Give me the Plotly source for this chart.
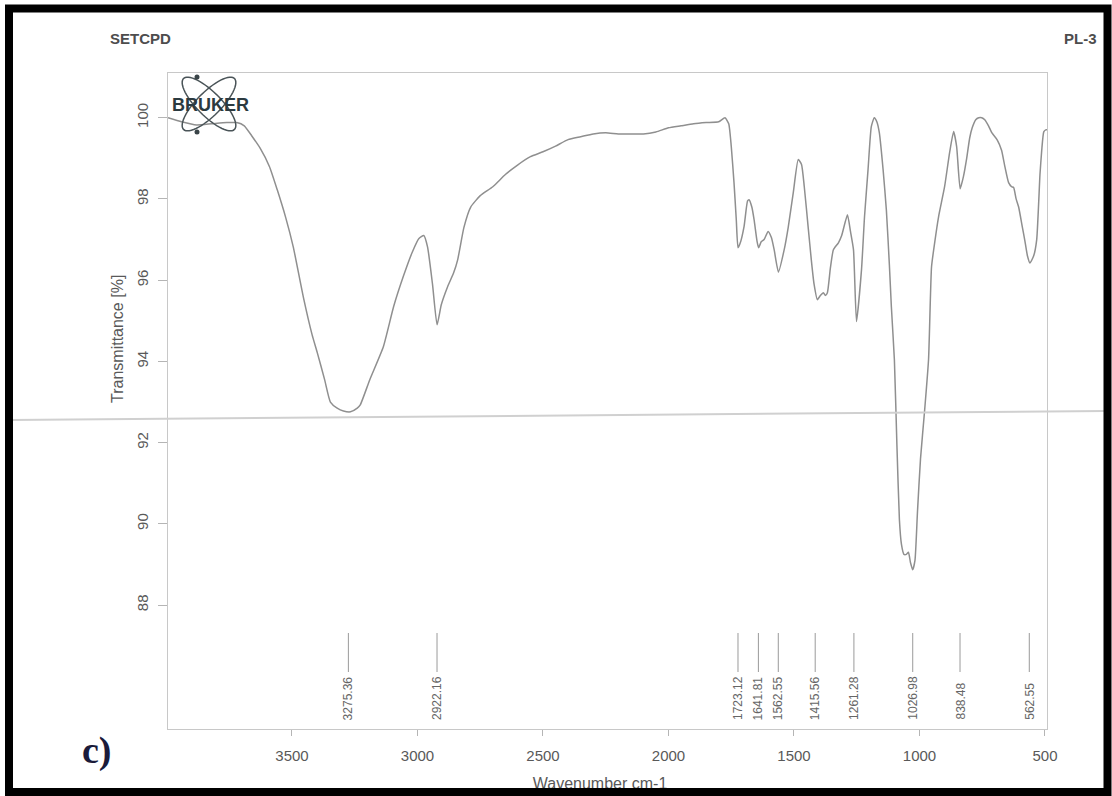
import numpy as np
import plotly.graph_objects as go

# ---------------- data ----------------
wavenumber = [
    3994, 3940, 3880, 3820, 3760, 3720, 3690, 3660, 3627, 3590,
    3559, 3525, 3495, 3455, 3420, 3399, 3370, 3347, 3320, 3295,
    3267, 3240, 3228, 3190, 3136, 3095, 3056, 3020, 2995, 2975,
    2960, 2940, 2922, 2905, 2880, 2856, 2840, 2815, 2788, 2750,
    2700, 2650, 2600, 2550, 2500, 2450, 2400, 2350, 2300, 2250,
    2200, 2150, 2100, 2050, 2000, 1950, 1900, 1850, 1800, 1775,
    1760, 1750, 1739, 1730, 1723, 1715, 1699, 1685, 1679, 1668,
    1659, 1647, 1641, 1630, 1619, 1603, 1590, 1579, 1562, 1539,
    1523, 1503, 1483, 1470, 1459, 1443, 1431, 1420, 1407, 1395,
    1383, 1375, 1367, 1355, 1343, 1323, 1310, 1287, 1275, 1263,
    1251, 1231, 1219, 1205, 1192, 1180, 1170, 1160, 1145, 1132,
    1120, 1112, 1100, 1090, 1080, 1072, 1062, 1052, 1044, 1036,
    1027, 1018, 1008, 996, 980, 964, 952, 940, 924, 900,
    880, 864, 852, 838, 825, 812, 800, 790, 776, 764,
    752, 740, 725, 712, 690, 673, 660, 645, 633, 625,
    615, 605, 590, 581, 570, 560, 545, 533, 520, 513,
    505, 497, 492,
]
transmittance = [
    100.0, 99.9, 99.82, 99.85, 99.88, 99.88, 99.8, 99.55, 99.25, 98.8,
    98.23, 97.54, 96.82, 95.59, 94.66, 94.21, 93.55, 93.0, 92.85, 92.78,
    92.76, 92.85, 92.93, 93.55, 94.36, 95.35, 96.1, 96.7, 97.02, 97.1,
    96.82, 95.89, 94.9, 95.4, 95.84, 96.18, 96.5, 97.3, 97.8, 98.08,
    98.3, 98.6, 98.84, 99.04, 99.16, 99.3, 99.46, 99.53, 99.6, 99.63,
    99.6, 99.6, 99.6, 99.65, 99.75, 99.8, 99.85, 99.88, 99.9, 100.0,
    99.85, 99.3, 98.4, 97.5, 96.8, 96.9, 97.32, 97.95, 97.98, 97.8,
    97.49, 96.95, 96.8, 96.95, 97.0, 97.2, 97.05, 96.75, 96.2, 96.75,
    97.3, 98.15, 98.97, 98.85, 98.3, 97.27, 96.5, 95.9, 95.52, 95.62,
    95.69, 95.62, 95.69, 96.3, 96.75, 96.92, 97.1, 97.61, 97.2, 96.75,
    94.98, 96.26, 97.56, 98.72, 99.78, 100.0, 99.9, 99.63, 98.72, 97.73,
    96.38, 95.34, 94.04, 91.95, 90.1, 89.5, 89.25, 89.25, 89.3, 89.05,
    88.87, 89.1, 90.3, 91.6, 92.76, 94.04, 96.33, 96.9, 97.56, 98.3,
    99.14, 99.66, 99.29, 98.25, 98.55, 99.0, 99.5, 99.75, 99.95, 100.0,
    100.0, 99.95, 99.8, 99.63, 99.45, 99.2, 98.8, 98.4, 98.3, 98.28,
    98.0, 97.8, 97.3, 97.0, 96.6, 96.42, 96.6, 97.0, 98.6, 99.2,
    99.65, 99.7, 99.7,
]
peak_positions = [3275.36, 2922.16, 1723.12, 1641.81, 1562.55,
                  1415.56, 1261.28, 1026.98, 838.48, 562.55]
peak_labels = ["3275.36", "2922.16", "1723.12", "1641.81", "1562.55",
               "1415.56", "1261.28", "1026.98", "838.48", "562.55"]
x_ticks = [3500, 3000, 2500, 2000, 1500, 1000, 500]
y_ticks = [88, 90, 92, 94, 96, 98, 100]

# ---------------- geometry helpers (pixels -> paper) ----------------
W, H = 1112, 796


def px(x):
    return x / W


def py(y):
    return 1 - y / H


FONT = "Liberation Sans, Arial, sans-serif"
GREY_TXT = "#595959"

fig = go.Figure()

fig.add_trace(go.Scatter(
    x=wavenumber, y=transmittance, mode="lines",
    line=dict(color="#8f8f8f", width=1.5, shape="spline", smoothing=0.5),
    hoverinfo="skip", showlegend=False,
))

# x-axis title (partly hidden by the frame), drawn as a text trace on a pixel overlay
fig.add_trace(go.Scatter(
    x=[600], y=[785], mode="text", text=["Wavenumber cm-1"],
    textfont=dict(family=FONT, size=16, color=GREY_TXT),
    xaxis="x2", yaxis="y2", cliponaxis=False, hoverinfo="skip", showlegend=False,
))

shapes = []
annotations = []

# peak markers
for p, lab in zip(peak_positions, peak_labels):
    shapes.append(dict(type="line", xref="x", yref="paper", x0=p, x1=p,
                       y0=py(633), y1=py(672), line=dict(color="#9a9a9a", width=1)))
    annotations.append(dict(x=p, y=py(722), xref="x", yref="paper", text=lab,
                            textangle=-90, showarrow=False, xanchor="center",
                            yanchor="bottom", font=dict(family=FONT, size=12, color="#666666")))

# Bruker logo orbits
cx, cy = 209, 104
t = np.linspace(0, 2 * np.pi, 60)
for ang in (45, 135):
    a, b = 36, 12
    th = np.deg2rad(ang)
    xs = cx + a * np.cos(t) * np.cos(th) - b * np.sin(t) * np.sin(th)
    ys = cy + a * np.cos(t) * np.sin(th) + b * np.sin(t) * np.cos(th)
    path = "M " + " L ".join(f"{px(xx):.5f},{py(yy):.5f}" for xx, yy in zip(xs, ys)) + " Z"
    shapes.append(dict(type="path", xref="paper", yref="paper", path=path,
                       line=dict(color="#4a5458", width=1.5)))
for (dx, dy) in [(197, 77), (197, 132)]:
    shapes.append(dict(type="circle", xref="paper", yref="paper",
                       x0=px(dx - 2.5), x1=px(dx + 2.5), y0=py(dy + 2.5), y1=py(dy - 2.5),
                       fillcolor="#3a4448", line=dict(width=0)))

# scan fold line
shapes.append(dict(type="line", xref="paper", yref="paper",
                   x0=px(10), y0=py(420), x1=px(1106), y1=py(411),
                   line=dict(color="#d0d0d0", width=2), layer="above"))
# black frame
shapes.append(dict(type="rect", xref="paper", yref="paper",
                   x0=px(9), x1=px(1107.5), y0=py(792), y1=py(8.5),
                   line=dict(color="black", width=8), fillcolor="rgba(0,0,0,0)",
                   layer="above"))


def ann(x, y, text, font, angle=0):
    return dict(x=px(x), y=py(y), xref="paper", yref="paper", text=text,
                textangle=angle, showarrow=False, xanchor="center", yanchor="middle",
                font=font)


annotations += [
    ann(210, 105, "<b>BRUKER</b>", dict(family=FONT, size=18, color="#2b3a40")),
    ann(140, 38, "<b>SETCPD</b>", dict(family=FONT, size=15, color="#4d4d4d")),
    ann(1080, 38, "<b>PL-3</b>", dict(family=FONT, size=15, color="#4d4d4d")),
    ann(117, 339, "Transmittance [%]", dict(family=FONT, size=16, color=GREY_TXT), -90),
    ann(97, 750, "<b>c)</b>",
        dict(family="Liberation Serif, Times New Roman, serif", size=38, color="#1b1b3a")),
]

fig.update_layout(
    width=W, height=H,
    margin=dict(l=0, r=0, t=0, b=0, pad=0, autoexpand=False),
    paper_bgcolor="white", plot_bgcolor="rgba(0,0,0,0)",
    showlegend=False,
    xaxis=dict(domain=[px(168), px(1047)], range=[3994, 492], tickvals=x_ticks,
               ticks="outside", ticklen=6, tickcolor="#b5b5b5", showline=True,
               linecolor="#c8c8c8", linewidth=1, mirror=True, showgrid=False,
               zeroline=False, tickfont=dict(family=FONT, size=15, color=GREY_TXT),
               ticklabelstandoff=7, automargin=False),
    yaxis=dict(domain=[py(729), py(73)], range=[84.95, 101.1], tickvals=y_ticks,
               tickangle=-90, ticks="outside", ticklen=9, tickcolor="#b5b5b5",
               showline=True, linecolor="#c8c8c8", linewidth=1, mirror=True,
               showgrid=False, zeroline=False,
               tickfont=dict(family=FONT, size=15, color=GREY_TXT),
               ticklabelstandoff=4, automargin=False),
    xaxis2=dict(domain=[0, 1], range=[0, W], visible=False, anchor="y2",
                fixedrange=True, automargin=False),
    yaxis2=dict(domain=[0, 1], range=[H, 0], visible=False, anchor="x2",
                fixedrange=True, automargin=False),
    shapes=shapes,
    annotations=annotations,
)

fig.write_html("out.html", config={"displayModeBar": False},
               post_script="document.body.style.margin='0';document.body.style.overflow='hidden';")
